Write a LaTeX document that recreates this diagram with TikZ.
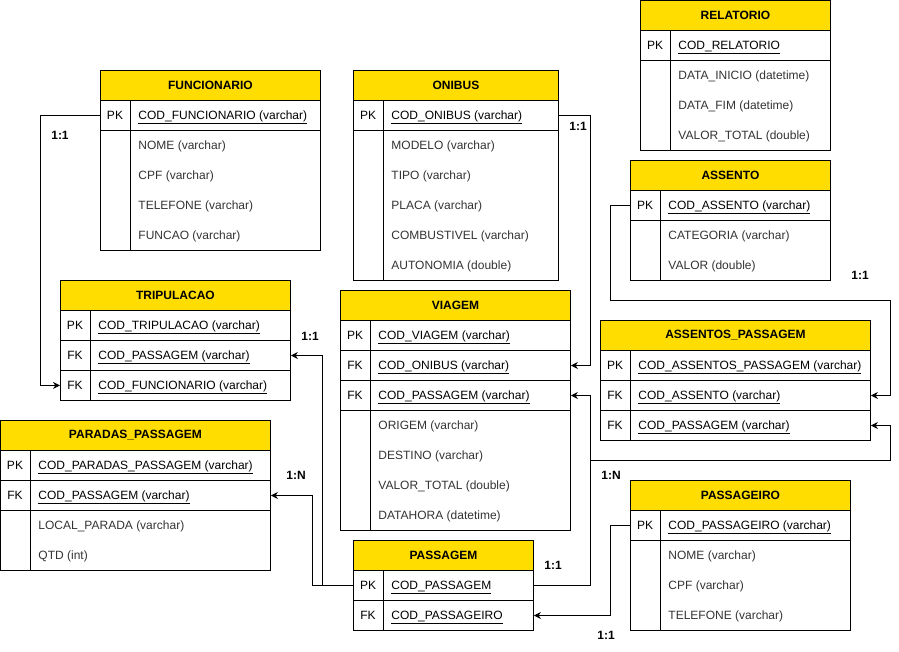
\documentclass[tikz,border=0pt]{standalone}
\usepackage{fontspec}
\setmainfont{Liberation Sans}
\usetikzlibrary{arrows.meta}
\definecolor{erYellow}{RGB}{255,221,0}

\begin{document}
\begin{tikzpicture}[x=1pt, y=-1pt, line width=0.9pt,
  tabhead/.style={draw, fill=erYellow, anchor=north west, minimum height=30pt, inner sep=0pt, font=\fontsize{12}{14}\selectfont\bfseries},
  keyrow/.style={draw, anchor=north west, minimum height=30pt, inner sep=0pt},
  keytag/.style={anchor=base, yshift=-4.4pt, inner sep=0pt, font=\fontsize{12}{14}\selectfont},
  keyname/.style={anchor=base west, yshift=-4.4pt, inner sep=0pt, font=\fontsize{12}{14}\selectfont},
  attr/.style={anchor=base west, yshift=-4.4pt, inner sep=0pt, text=black!80, font=\fontsize{12}{14}\selectfont},
  card/.style={inner sep=0pt, font=\fontsize{12}{14}\selectfont\bfseries},
  link/.style={-{Stealth[length=7pt,width=7pt]}}]
\useasboundingbox (0,0) rectangle (899,651);

% FUNCIONARIO
\node[tabhead, minimum width=220pt] (funcionario) at (100,70) {FUNCIONARIO};
\node[keyrow, minimum width=220pt] (funcionario-pk) at (100,100) {};
\node[keytag] (funcionario-pk-tag) at (115,115) {PK};
\node[keyname] (funcionario-pk-name) at (138,115) {\underline{COD\_FUNCIONARIO (varchar)}};
\draw (100,130) rectangle (320,250) (130,100) -- (130,250);
\node[attr] (funcionario-a1) at (138,145) {NOME (varchar)};
\node[attr] (funcionario-a2) at (138,175) {CPF (varchar)};
\node[attr] (funcionario-a3) at (138,205) {TELEFONE (varchar)};
\node[attr] (funcionario-a4) at (138,235) {FUNCAO (varchar)};

% ONIBUS
\node[tabhead, minimum width=205pt] (onibus) at (353,70) {ONIBUS};
\node[keyrow, minimum width=205pt] (onibus-pk) at (353,100) {};
\node[keytag] (onibus-pk-tag) at (368,115) {PK};
\node[keyname] (onibus-pk-name) at (391,115) {\underline{COD\_ONIBUS (varchar)}};
\draw (353,130) rectangle (558,280) (383,100) -- (383,280);
\node[attr] (onibus-a1) at (391,145) {MODELO (varchar)};
\node[attr] (onibus-a2) at (391,175) {TIPO (varchar)};
\node[attr] (onibus-a3) at (391,205) {PLACA (varchar)};
\node[attr] (onibus-a4) at (391,235) {COMBUSTIVEL (varchar)};
\node[attr] (onibus-a5) at (391,265) {AUTONOMIA (double)};

% RELATORIO
\node[tabhead, minimum width=190pt] (relatorio) at (640,0) {RELATORIO};
\node[keyrow, minimum width=190pt] (relatorio-pk) at (640,30) {};
\node[keytag] (relatorio-pk-tag) at (655,45) {PK};
\node[keyname] (relatorio-pk-name) at (678,45) {\underline{COD\_RELATORIO}};
\draw (640,60) rectangle (830,150) (670,30) -- (670,150);
\node[attr] (relatorio-a1) at (678,75) {DATA\_INICIO (datetime)};
\node[attr] (relatorio-a2) at (678,105) {DATA\_FIM (datetime)};
\node[attr] (relatorio-a3) at (678,135) {VALOR\_TOTAL (double)};

% ASSENTO
\node[tabhead, minimum width=200pt] (assento) at (630,160) {ASSENTO};
\node[keyrow, minimum width=200pt] (assento-pk) at (630,190) {};
\node[keytag] (assento-pk-tag) at (645,205) {PK};
\node[keyname] (assento-pk-name) at (668,205) {\underline{COD\_ASSENTO (varchar)}};
\draw (630,220) rectangle (830,280) (660,190) -- (660,280);
\node[attr] (assento-a1) at (668,235) {CATEGORIA (varchar)};
\node[attr] (assento-a2) at (668,265) {VALOR (double)};

% TRIPULACAO
\node[tabhead, minimum width=230pt] (tripulacao) at (60,280) {TRIPULACAO};
\node[keyrow, minimum width=230pt] (tripulacao-pk) at (60,310) {};
\node[keyrow, minimum width=230pt] (tripulacao-fk1) at (60,340) {};
\node[keyrow, minimum width=230pt] (tripulacao-fk2) at (60,370) {};
\draw (90,310) -- (90,400);
\node[keytag] (tripulacao-pk-tag) at (75,325) {PK};
\node[keytag] (tripulacao-fk1-tag) at (75,355) {FK};
\node[keytag] (tripulacao-fk2-tag) at (75,385) {FK};
\node[keyname] (tripulacao-pk-name) at (98,325) {\underline{COD\_TRIPULACAO (varchar)}};
\node[keyname] (tripulacao-fk1-name) at (98,355) {\underline{COD\_PASSAGEM (varchar)}};
\node[keyname] (tripulacao-fk2-name) at (98,385) {\underline{COD\_FUNCIONARIO (varchar)}};

% VIAGEM
\node[tabhead, minimum width=230pt] (viagem) at (340,290) {VIAGEM};
\node[keyrow, minimum width=230pt] (viagem-pk) at (340,320) {};
\node[keyrow, minimum width=230pt] (viagem-fk1) at (340,350) {};
\node[keyrow, minimum width=230pt] (viagem-fk2) at (340,380) {};
\draw (340,410) rectangle (570,530) (370,320) -- (370,530);
\node[keytag] (viagem-pk-tag) at (355,335) {PK};
\node[keytag] (viagem-fk1-tag) at (355,365) {FK};
\node[keytag] (viagem-fk2-tag) at (355,395) {FK};
\node[keyname] (viagem-pk-name) at (378,335) {\underline{COD\_VIAGEM (varchar)}};
\node[keyname] (viagem-fk1-name) at (378,365) {\underline{COD\_ONIBUS (varchar)}};
\node[keyname] (viagem-fk2-name) at (378,395) {\underline{COD\_PASSAGEM (varchar)}};
\node[attr] (viagem-a1) at (378,425) {ORIGEM (varchar)};
\node[attr] (viagem-a2) at (378,455) {DESTINO (varchar)};
\node[attr] (viagem-a3) at (378,485) {VALOR\_TOTAL (double)};
\node[attr] (viagem-a4) at (378,515) {DATAHORA (datetime)};

% ASSENTOS_PASSAGEM
\node[tabhead, minimum width=270pt] (assentos) at (600,320) {ASSENTOS\_PASSAGEM};
\node[keyrow, minimum width=270pt] (assentos-pk) at (600,350) {};
\node[keyrow, minimum width=270pt] (assentos-fk1) at (600,380) {};
\node[keyrow, minimum width=270pt] (assentos-fk2) at (600,410) {};
\draw (630,350) -- (630,440);
\node[keytag] (assentos-pk-tag) at (615,365) {PK};
\node[keytag] (assentos-fk1-tag) at (615,395) {FK};
\node[keytag] (assentos-fk2-tag) at (615,425) {FK};
\node[keyname] (assentos-pk-name) at (638,365) {\underline{COD\_ASSENTOS\_PASSAGEM (varchar)}};
\node[keyname] (assentos-fk1-name) at (638,395) {\underline{COD\_ASSENTO (varchar)}};
\node[keyname] (assentos-fk2-name) at (638,425) {\underline{COD\_PASSAGEM (varchar)}};

% PARADAS_PASSAGEM
\node[tabhead, minimum width=270pt] (paradas) at (0,420) {PARADAS\_PASSAGEM};
\node[keyrow, minimum width=270pt] (paradas-pk) at (0,450) {};
\node[keyrow, minimum width=270pt] (paradas-fk) at (0,480) {};
\draw (0,510) rectangle (270,570) (30,450) -- (30,570);
\node[keytag] (paradas-pk-tag) at (15,465) {PK};
\node[keytag] (paradas-fk-tag) at (15,495) {FK};
\node[keyname] (paradas-pk-name) at (38,465) {\underline{COD\_PARADAS\_PASSAGEM (varchar)}};
\node[keyname] (paradas-fk-name) at (38,495) {\underline{COD\_PASSAGEM (varchar)}};
\node[attr] (paradas-a1) at (38,525) {LOCAL\_PARADA (varchar)};
\node[attr] (paradas-a2) at (38,555) {QTD (int)};

% PASSAGEM
\node[tabhead, minimum width=180pt] (passagem) at (353,540) {PASSAGEM};
\node[keyrow, minimum width=180pt] (passagem-pk) at (353,570) {};
\node[keyrow, minimum width=180pt] (passagem-fk) at (353,600) {};
\draw (383,570) -- (383,630);
\node[keytag] (passagem-pk-tag) at (368,585) {PK};
\node[keytag] (passagem-fk-tag) at (368,615) {FK};
\node[keyname] (passagem-pk-name) at (391,585) {\underline{COD\_PASSAGEM}};
\node[keyname] (passagem-fk-name) at (391,615) {\underline{COD\_PASSAGEIRO}};

% PASSAGEIRO
\node[tabhead, minimum width=220pt] (passageiro) at (630,480) {PASSAGEIRO};
\node[keyrow, minimum width=220pt] (passageiro-pk) at (630,510) {};
\node[keytag] (passageiro-pk-tag) at (645,525) {PK};
\node[keyname] (passageiro-pk-name) at (668,525) {\underline{COD\_PASSAGEIRO (varchar)}};
\draw (630,540) rectangle (850,630) (660,510) -- (660,630);
\node[attr] (passageiro-a1) at (668,555) {NOME (varchar)};
\node[attr] (passageiro-a2) at (668,585) {CPF (varchar)};
\node[attr] (passageiro-a3) at (668,615) {TELEFONE (varchar)};

% relacionamentos
\coordinate (assento-turn) at (890,300);
\coordinate (passagem-turn) at (890,460);
\draw[link] (funcionario-pk.west) -- ++(-60,0) |- (tripulacao-fk2.west);
\draw[link] (onibus-pk.east) -- ++(32,0) |- (viagem-fk1.east);
\draw[link] (assento-pk.west) -- ++(-20,0) |- (assento-turn) |- (assentos-fk1.east);
\draw[link] (passagem-pk.east) -- ++(57,0) |- (viagem-fk2.east);
\draw[link] (passagem-pk.east) -- ++(57,0) |- (passagem-turn) |- (assentos-fk2.east);
\draw[link] (passagem-pk.west) -- ++(-31,0) |- (tripulacao-fk1.east);
\draw[link] (passagem-pk.west) -- ++(-41,0) |- (paradas-fk.east);
\draw[link] (passageiro-pk.west) -- ++(-20,0) |- (passagem-fk.east);

% cardinalidades
\node[card] (card-funcionario) at (60,135) {1:1};
\node[card] (card-onibus) at (578,126) {1:1};
\node[card] (card-assento) at (860,275) {1:1};
\node[card] (card-tripulacao) at (310,336) {1:1};
\node[card] (card-paradas) at (296,475) {1:N};
\node[card] (card-assentos) at (611,475) {1:N};
\node[card] (card-passagem) at (553,565) {1:1};
\node[card] (card-passageiro) at (606,635) {1:1};
\end{tikzpicture}
\end{document}
